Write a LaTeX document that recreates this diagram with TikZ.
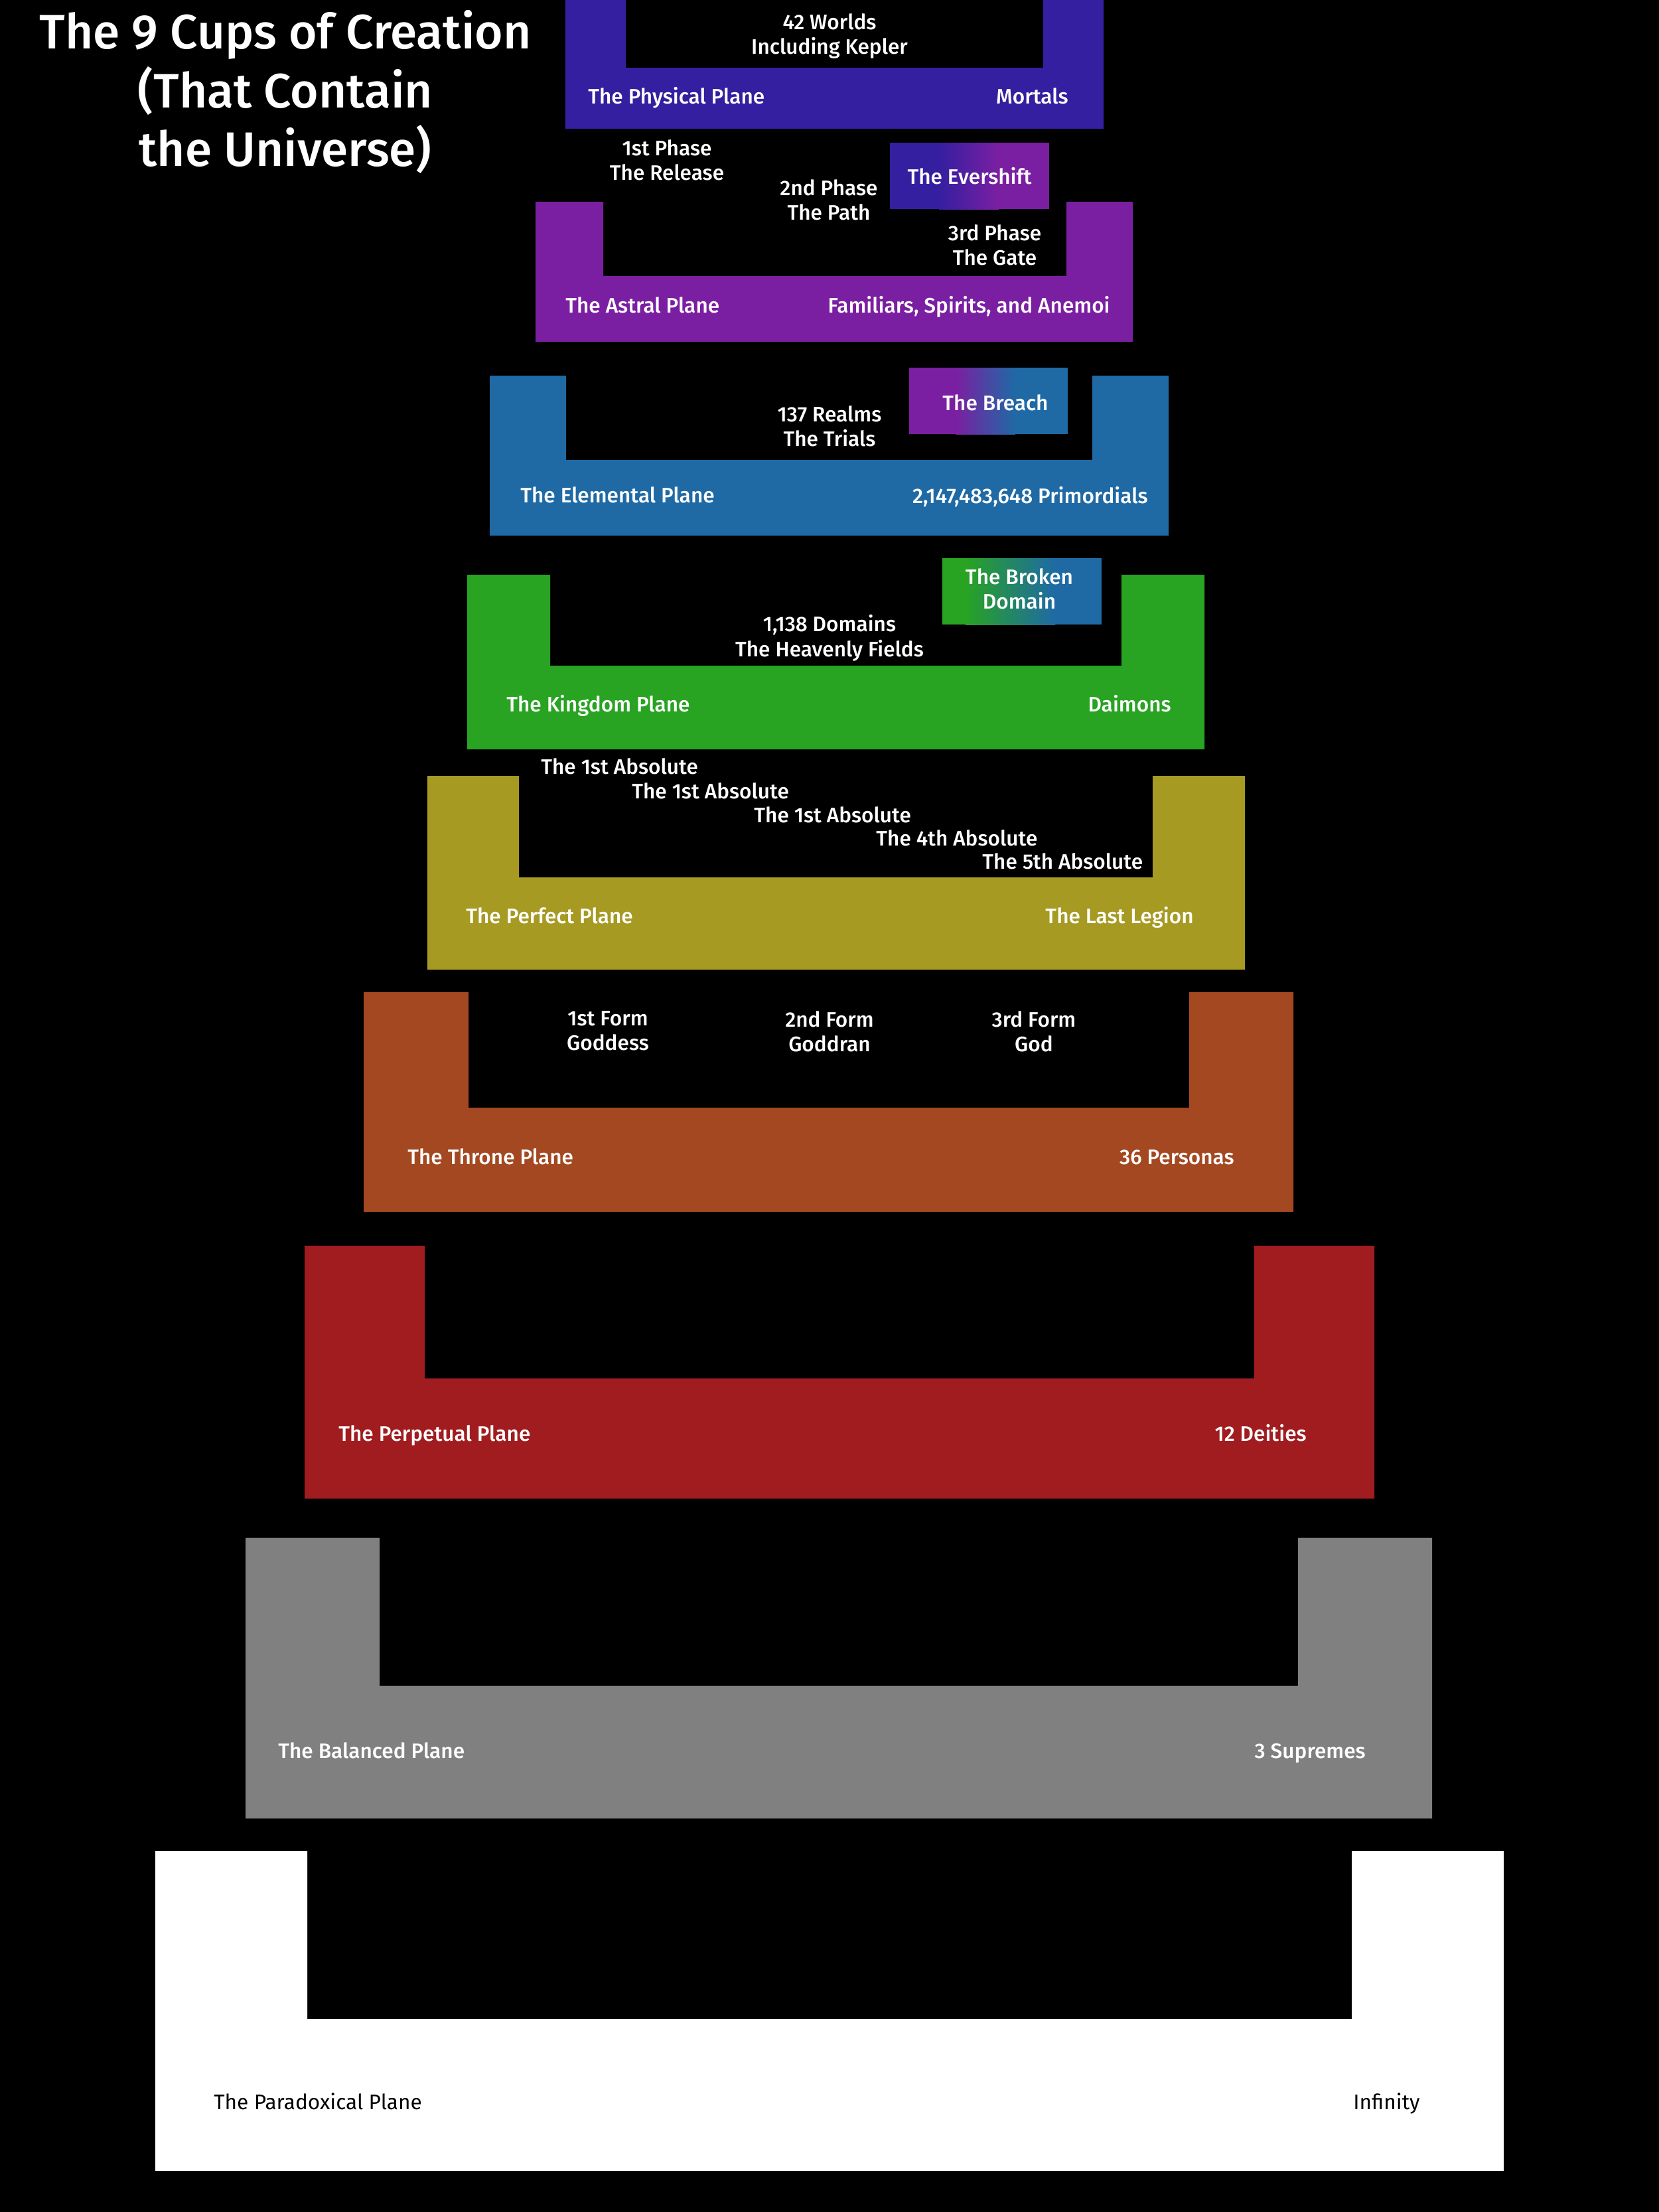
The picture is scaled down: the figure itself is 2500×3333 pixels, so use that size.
\documentclass[tikz,border=0pt]{standalone}
\usepackage{fontspec}
\setmainfont{Fira Sans}[UprightFont=* Medium, BoldFont=* Bold]
\newfontfamily\titlefont{Fira Sans}[UprightFont=* Medium]
\newfontfamily\regfont{Fira Sans}
\definecolor{cphys}{HTML}{341FA0}
\definecolor{castral}{HTML}{7B1FA2}
\definecolor{celem}{HTML}{1F6AA5}
\definecolor{cking}{HTML}{28A322}
\definecolor{cperf}{HTML}{A69A22}
\definecolor{cthrone}{HTML}{A34821}
\definecolor{cperp}{HTML}{A01C1F}
\definecolor{cbal}{HTML}{808080}
\definecolor{cpara}{HTML}{FFFFFF}
% x1, x2, inner x1, inner x2, top, inner bottom, bottom, colour
\newcommand\drawcup[8]{%
  \fill[#8] (#1,#5) -- (#3,#5) -- (#3,#6) -- (#4,#6) -- (#4,#5) -- (#2,#5) -- (#2,#7) -- (#1,#7) -- cycle;}
% x1, gradient start, gradient end, x2, y1, y2, colour1, colour2
\newcommand\gradbox[8]{%
  \fill[#7] (#1,#5) rectangle (#2+1,#6);
  \fill[#8] (#3-1,#5) rectangle (#4,#6);
  \shade[left color=#7, right color=#8] (#2,#5) rectangle (#3,#6);}
\tikzset{
  lab/.style={text=white, inner sep=0pt, font=\fontsize{18}{21.4}\selectfont},
  leftlab/.style={lab, anchor=base west},
  rightlab/.style={lab, anchor=base east},
  twolab/.style={lab, anchor=north, align=center},
  darklab/.style={inner sep=0pt, text=black, font=\regfont\fontsize{18}{21.4}\selectfont},
}
\begin{document}
\begin{tikzpicture}[x=0.02cm, y=-0.02cm]
\fill[black] (0,0) rectangle (2500,3333);
\useasboundingbox (0,0) rectangle (2500,3333);

% title
\node[text=white, inner sep=0pt, anchor=north, align=center,
      font=\titlefont\fontsize{41.5}{50.5}\selectfont] (title) at (430,15)
  {The 9 Cups of Creation\\(That Contain\\the Universe)};

% cups
\drawcup{852}{1663}{943}{1572}{0}{102}{194}{cphys}
\drawcup{807}{1707}{909}{1607}{304}{416}{515}{castral}
\drawcup{738}{1761}{853}{1646}{566}{693}{807}{celem}
\drawcup{704}{1815}{829}{1690}{866}{1003}{1129}{cking}
\drawcup{644}{1876}{782}{1737}{1169}{1322}{1461}{cperf}
\drawcup{548}{1949}{706}{1792}{1495}{1669}{1826}{cthrone}
\drawcup{459}{2071}{640}{1890}{1877}{2077}{2258}{cperp}
\drawcup{370}{2158}{572}{1956}{2317}{2540}{2740}{cbal}
\drawcup{234}{2266}{463}{2037}{2789}{3042}{3271}{cpara}

% gradient boxes
\gradbox{1341}{1415}{1505}{1581}{215}{315}{cphys}{castral}
\gradbox{1370}{1440}{1530}{1609}{554}{654}{castral}{celem}
\gradbox{1420}{1455}{1590}{1660}{841}{941}{cking}{celem}

% physical
\node[twolab] (worlds) at (1250,20) {42 Worlds\\Including Kepler};
\node[leftlab] (physical) at (886,156) {The Physical Plane};
\node[rightlab] (mortals) at (1610,156) {Mortals};
% phases
\node[twolab] (phase1) at (1005,210) {1st Phase\\The Release};
\node[twolab] (phase2) at (1249,270) {2nd Phase\\The Path};
\node[twolab] (phase3) at (1499,338) {3rd Phase\\The Gate};
\node[lab] (evershift) at (1461,265) {The Evershift};
% astral
\node[leftlab] (astral) at (852,471) {The Astral Plane};
\node[rightlab] (familiars) at (1673,471) {Familiars, Spirits, and Anemoi};
% elemental
\node[lab] (breach) at (1500,607) {The Breach};
\node[twolab] (realms) at (1250,611) {137 Realms\\The Trials};
\node[leftlab] (elemental) at (784,757) {The Elemental Plane};
\node[rightlab] (primordials) at (1730,758) {2,147,483,648 Primordials};
% kingdom
\node[twolab] (broken) at (1536,856) {The Broken\\Domain};
\node[twolab] (domains) at (1250,926) {1,138 Domains\\The Heavenly Fields};
\node[leftlab] (kingdom) at (763,1072) {The Kingdom Plane};
\node[rightlab] (daimons) at (1765,1072) {Daimons};
% perfect
\node[leftlab] (abs1) at (815,1166) {The 1st Absolute};
\node[leftlab] (abs2) at (952,1203) {The 1st Absolute};
\node[leftlab] (abs3) at (1136,1239) {The 1st Absolute};
\node[leftlab] (abs4) at (1320,1274) {The 4th Absolute};
\node[leftlab] (abs5) at (1480,1309) {The 5th Absolute};
\node[leftlab] (perfect) at (702,1391) {The Perfect Plane};
\node[rightlab] (legion) at (1799,1391) {The Last Legion};
% throne
\node[twolab] (form1) at (916,1523) {1st Form\\Goddess};
\node[twolab] (form2) at (1250,1523) {2nd Form\\Goddran};
\node[twolab] (form3) at (1558,1523) {3rd Form\\God};
\node[leftlab] (throne) at (614,1754) {The Throne Plane};
\node[rightlab] (personas) at (1860,1754) {36 Personas};
% perpetual
\node[leftlab] (perpetual) at (510,2171) {The Perpetual Plane};
\node[rightlab] (deities) at (1969,2171) {12 Deities};
% balanced
\node[leftlab] (balanced) at (419,2649) {The Balanced Plane};
\node[rightlab] (supremes) at (2058,2649) {3 Supremes};
% paradoxical
\node[darklab, anchor=base west] (paradox) at (322,3178) {The Paradoxical Plane};
\node[darklab, anchor=base east] (infinity) at (2140,3178) {Infinity};
\end{tikzpicture}
\end{document}
